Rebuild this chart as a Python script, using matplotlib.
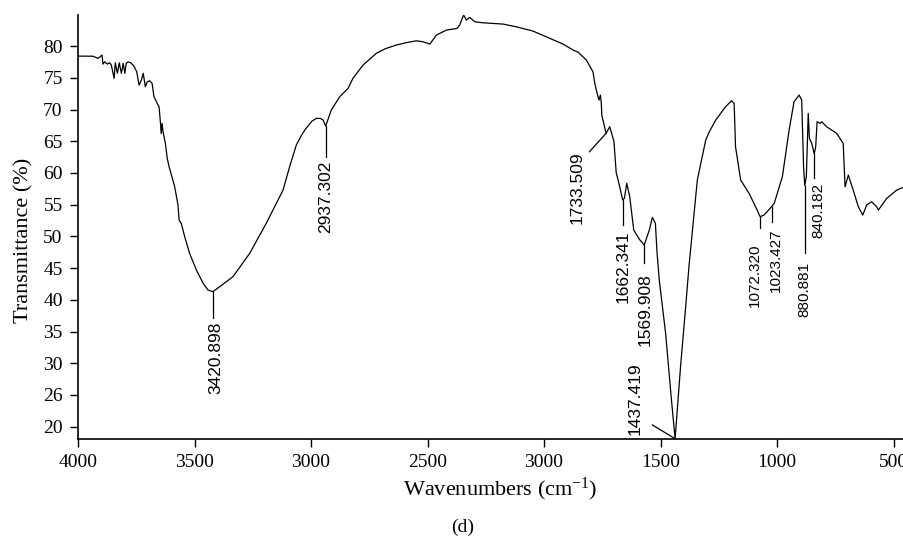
import matplotlib
matplotlib.use("Agg")
import matplotlib.pyplot as plt

plt.rcParams['font.family'] = ['Liberation Serif', 'DejaVu Serif']
plt.rcParams['mathtext.fontset'] = 'custom'
plt.rcParams['mathtext.rm'] = 'Liberation Serif'
plt.rcParams['mathtext.default'] = 'regular'

# FTIR spectrum
wavenumber = [4000, 3935, 3914, 3897, 3893, 3885, 3874, 3864, 3857, 3845, 3840, 3831, 3823,
              3814, 3806, 3799, 3793, 3785, 3774, 3760, 3748, 3738, 3728, 3720, 3711, 3703,
              3692, 3682, 3674, 3660, 3652, 3646, 3643, 3639, 3635, 3625, 3617, 3609, 3585,
              3571, 3566, 3557, 3542, 3521, 3492, 3463, 3442, 3421, 3392, 3335, 3263, 3192,
              3120, 3090, 3063, 3040, 3020, 2995, 2977, 2960, 2948, 2937, 2913, 2877, 2841,
              2820, 2777, 2720, 2680, 2634, 2590, 2548, 2519, 2490, 2462, 2419, 2373, 2362,
              2345, 2333, 2319, 2297, 2262, 2176, 2119, 2047, 1975, 1918, 1875, 1854, 1818,
              1790, 1782, 1772, 1764, 1758, 1754, 1752, 1747, 1733.5,
              1718, 1700, 1690, 1682, 1672, 1662.3, 1655, 1645, 1632, 1615, 1590, 1569.9,
              1560, 1548, 1535, 1522, 1515, 1505, 1478, 1455, 1437.4, 1414, 1392, 1378, 1342,
              1306, 1292, 1263, 1221, 1195, 1184, 1178, 1156, 1120, 1092, 1072.3, 1056, 1023.4,
              1012, 977, 948, 927, 905, 894, 889, 886, 880.9, 874, 866, 861, 851, 840.2, 834,
              828, 815, 808, 787, 744, 716, 708, 694, 673, 651, 632, 615, 594, 572, 565, 529,
              486, 458, 450]
transmittance = [78.42, 78.4, 78.06, 78.58, 77.16, 77.52, 77.16, 77.37, 77.0, 74.91, 77.37, 75.70,
                 77.37, 75.70, 77.27, 75.70, 77.27, 77.52, 77.37, 76.85, 75.95, 73.85, 74.64,
                 75.70, 73.58, 74.37, 74.53, 74.12, 72.01, 70.97, 70.43, 67.82, 66.2, 67.82,
                 66.49, 64.66, 62.30, 60.98, 57.82, 54.94, 52.58, 52.06, 49.94, 47.33, 44.70,
                 42.60, 41.54, 41.28, 42.06, 43.64, 47.33, 52.06, 57.30, 61.2, 64.4, 66.0, 67.1,
                 68.2, 68.60, 68.6, 68.34, 67.4, 69.91, 72.0, 73.33, 74.91, 77.0, 78.85, 79.6,
                 80.16, 80.55, 80.83, 80.68, 80.31, 81.73, 82.52, 82.79, 83.31, 84.9, 84.10,
                 84.52, 83.83, 83.67, 83.47, 83.04, 82.36, 81.21, 80.31, 79.37, 79.05, 77.79,
                 75.95, 74.12, 72.54, 71.49, 72.28, 70.97, 69.12, 68.34,
                 66.24, 67.3, 65.0, 60.0, 58.9, 57.3, 55.74, 56.0, 58.36, 56.25, 51.0, 49.5,
                 48.64, 49.7, 51.0, 53.0, 52.06, 47.5, 43.0, 34.7, 25.0, 18.1, 29.46, 38.91,
                 45.22, 58.88, 65.18, 66.4, 68.34, 70.43, 71.38, 70.97, 64.13, 58.88, 56.78,
                 54.67, 53.1, 53.36, 54.67, 55.2, 59.4, 66.76, 71.22, 72.28, 71.49, 65.18, 60.98,
                 58.0, 59.5, 69.39, 65.45, 64.66, 63.0, 64.13, 68.07, 67.82, 68.07, 67.28, 66.24,
                 64.66, 57.82, 59.67, 57.30, 54.67, 53.36, 54.94, 55.46, 54.67, 54.15, 56.0,
                 57.30, 57.73, 57.8]

# peak labels
peak_labels = ['3420.898', '2937.302', '1733.509', '1662.341', '1569.908',
               '1437.419', '1072.320', '1023.427', '880.881', '840.182']
peak_x = [3420.898, 2937.302, 1733.509, 1662.341, 1569.908, 1437.419, 1072.320, 1023.427, 880.881, 840.182]
peak_y = [41.28, 67.4, 66.24, 55.74, 48.64, 18.1, 53.1, 54.67, 58.0, 63.0]
line_end_x = [3420.898, 2937.302, 1805, 1662.341, 1569.908, 1535, 1072.320, 1023.427, 880.881, 840.182]
line_end_y = [37.13, 62.5, 63.34, 51.76, 45.75, 20.27, 51.27, 52.23, 47.33, 59.2]
label_x = [3407, 2937.302, 1858, 1662.341, 1566, 1610, 1093, 1006, 880.881, 822]
label_y = [36.6, 62.0, 63.4, 50.9, 44.2, 18.7, 48.9, 51.2, 46.0, 58.4]

xtick_pos = [4000, 3500, 3000, 2500, 2000, 1500, 1000, 500]
xtick_text = ['4000', '3500', '3000', '2500', '3000', '1500', '1000', '500']
ytick_pos = [20, 25, 30, 35, 40, 45, 50, 55, 60, 65, 70, 75, 80]
ytick_text = ['20', '26', '30', '35', '40', '45', '50', '55', '60', '65', '70', '75', '80']

fig = plt.figure(figsize=(9.04, 5.37), dpi=100)
ax = fig.add_axes([78 / 904, 98.3 / 537, 826 / 904, 423.7 / 537])

ax.plot(wavenumber, transmittance, color='black', lw=0.9)

for i, lab in enumerate(peak_labels):
    ax.plot([peak_x[i], line_end_x[i]], [peak_y[i], line_end_y[i]], color='black', lw=0.9)
    va = 'bottom' if lab == '1437.419' else 'top'
    fs = 11 if peak_x[i] < 1100 else 12.5
    ax.text(label_x[i], label_y[i], lab, rotation=90, ha='center', va=va,
            fontsize=fs, family='Liberation Sans')

ax.set_xlim(4000, 455)
ax.set_ylim(18.1, 84.9)
ax.set_xticks(xtick_pos)
ax.set_xticklabels(xtick_text)
ax.set_yticks(ytick_pos)
ax.set_yticklabels(ytick_text)
ax.tick_params(direction='out', length=6, width=1.0, labelsize=14, pad=5)

for s in ['top', 'right']:
    ax.spines[s].set_visible(False)
for s in ['left', 'bottom']:
    ax.spines[s].set_linewidth(1.2)

ax.set_xlabel('Wavenumbers (cm$^{-1}$)', fontsize=16)
ax.xaxis.label.set_va('center')
ax.xaxis.set_label_coords(0.511, -0.1187)
ax.set_ylabel('Transmittance (%)', fontsize=16)
ax.yaxis.label.set_va('center')
ax.yaxis.set_label_coords(-0.0654, 0.469)

fig.text(463 / 904, 1 - 527 / 537, '(d)', ha='center', va='center', fontsize=14)

plt.savefig('out.png', dpi=100)
